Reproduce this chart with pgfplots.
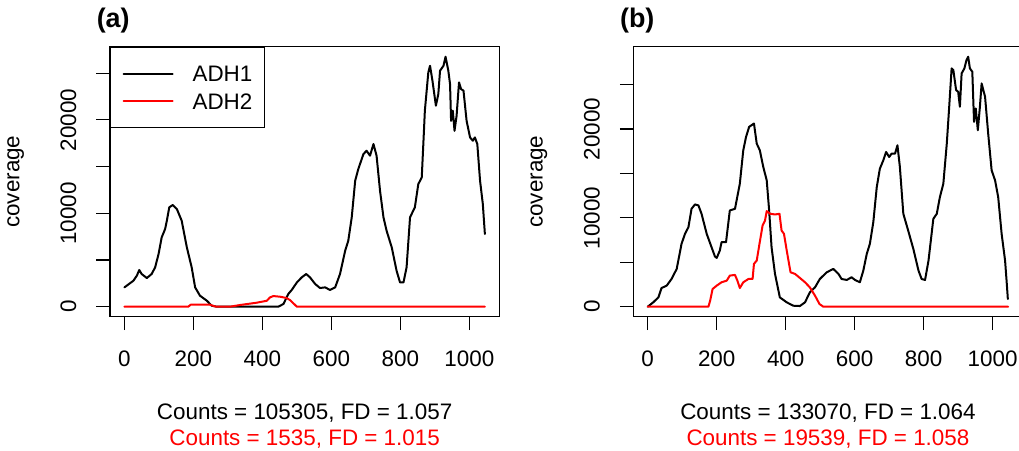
\documentclass[border=0pt]{standalone}
\usepackage{fontspec}
\setmainfont{Liberation Sans}
\usepackage{pgfplots}
\pgfplotsset{compat=1.18}
\newcommand{\fs}{\fontsize{22.5}{27}\selectfont}
\pgfplotsset{
  rpanel/.style={
    scale only axis, width=389.3bp, height=270bp,
    xmin=-41.8, xmax=1086.8,
    scaled ticks=false,
    axis line style={line width=1.1bp},
    tick align=outside, tick pos=left,
    major tick length=13.5bp,
    tick style={line width=1.1bp, black},
    xtick={0,200,400,600,800,1000}, xticklabels={0,200,400,600,800,1000},
    ytick={0,5000,10000,15000,20000,25000}, yticklabels={0,,10000,,20000,},
    tick label style={font=\fs},
    xticklabel style={anchor=center, yshift=-28.5bp},
    yticklabel style={xshift=-28bp, rotate=90, anchor=center},
    label style={font=\fs},
    ylabel={coverage},
    ylabel style={at={(axis description cs:-0.233,0.5)}, anchor=base},
    xlabel style={at={(axis description cs:0.5,-0.3789)}, anchor=base},
    title style={at={(axis description cs:-0.043,1.05)}, anchor=base west, font=\bfseries\fontsize{27}{32}\selectfont},
  },
  adh/.style={line width=2bp, line join=round, line cap=round},
}
\begin{document}
\begin{tikzpicture}
\useasboundingbox (0,0) rectangle (1019bp,451bp);
\begin{axis}[rpanel, at={(110bp,134.3bp)}, anchor=south west,
  ymin=-1071, ymax=27841,
  title={(a)},
  xlabel={Counts = 105305, FD = 1.057},
  legend cell align=left,
  legend image code/.code={\path (0bp,0bp) -- (7bp,0bp); \draw[#1] (7bp,0bp) -- (49bp,0bp);},
  legend style={at={(axis description cs:0,1)}, anchor=north west, draw=black, line width=1.1bp,
    inner xsep=12bp, inner ysep=13bp, row sep=0bp, column sep=19bp, font=\fs,
    nodes={inner sep=0pt, text height=21.5bp, text depth=5.8bp}},
  after end axis/.code={\node[anchor=base, text=red, font=\fs] at (axis description cs:0.5,-0.4752) {Counts = 1535, FD = 1.015};},
]
\addplot[adh, black] coordinates {
(0,2070) (26,2780) (36,3320) (43,3930) (50,3500) (65,3070) (79,3500) (89,4210) (99,5640) (108,7420) (118,8320) (123,9210) (130,10640) (140,10890) (152,10460) (166,9210) (181,6350) (195,4210) (205,2070) (219,1180) (239,640) (253,110) (268,0) (446,0) (461,290) (475,1360) (485,1790) (500,2600) (514,3140) (527,3500) (538,3140) (553,2430) (567,2000) (582,2070) (596,1790) (611,2070) (625,3500) (640,6000) (649,7070) (659,9570) (669,13490) (678,14740) (693,16350) (702,16700) (712,16170) (722,17420) (731,16170) (741,12420) (751,9570) (760,8140) (775,6350) (789,3850) (799,2600) (809,2600) (818,4210) (828,9570) (842,10640) (852,13130) (862,13850) (867,17770) (871,20990) (881,25090) (886,25800) (893,24200) (903,21520) (910,22770) (915,25270) (925,25800) (931,26770) (939,25270) (944,23840) (947,19900) (952,20990) (957,18840) (963,20450) (970,24020) (976,23300) (983,23130) (992,19900) (1002,18130) (1010,17770) (1016,18130) (1023,17420) (1031,13490) (1039,11000) (1045,7780)
};
\addlegendentry{ADH1}
\addplot[adh, red] coordinates {
(0,0) (185,0) (192,210) (248,210) (265,0) (306,0) (335,180) (384,430) (413,640) (422,1000) (432,1140) (451,1070) (470,930) (480,710) (500,0) (1045,0)
};
\addlegendentry{ADH2}
\end{axis}
\begin{axis}[rpanel, at={(633.3bp,134.3bp)}, anchor=south west,
  ymin=-1126, ymax=29266,
  title={(b)},
  xlabel={Counts = 133070, FD = 1.064},
  after end axis/.code={\node[anchor=base, text=red, font=\fs] at (axis description cs:0.5,-0.4752) {Counts = 19539, FD = 1.058};},
]
\addplot[adh, black] coordinates {
(0,0) (16,490) (31,1050) (40,2100) (55,2370) (69,3120) (84,4250) (98,7070) (108,8200) (118,8950) (127,11020) (137,11510) (147,11400) (156,10460) (171,8200) (185,6700) (195,5640) (200,5490) (209,6320) (214,7260) (227,7260) (238,10830) (253,11020) (267,13840) (277,17600) (285,19110) (294,20240) (301,20430) (308,20620) (316,18360) (325,17600) (335,15730) (345,14220) (352,10830) (359,6700) (369,3690) (383,1050) (403,490) (422,110) (441,75) (456,490) (470,1620) (485,2180) (499,3120) (519,3875) (538,4250) (553,3690) (562,3120) (577,3010) (591,3310) (601,3010) (615,2750) (625,4060) (635,5940) (644,7070) (654,9520) (664,13470) (673,15540) (683,16480) (691,17420) (700,16850) (707,17230) (717,17230) (724,18170) (731,15730) (741,10460) (755,8580) (770,6510) (785,4060) (794,3120) (804,3010) (814,5190) (828,9890) (838,10460) (847,12340) (857,13840) (867,18360) (874,22500) (881,26820) (886,26640) (894,24380) (900,24190) (905,22500) (910,26260) (918,26820) (924,27760) (929,28140) (934,26820) (941,26450) (946,20800) (951,22310) (957,19860) (963,22500) (968,25130) (978,23620) (987,19490) (997,15350) (1007,14220) (1016,12340) (1026,8200) (1036,5190) (1041,2560) (1044,870)
};
\addplot[adh, red] coordinates {
(0,0) (176,0) (181,680) (188,1990) (200,2370) (214,2750) (229,2930) (238,3500) (253,3575) (260,2930) (267,2100) (277,2750) (292,3120) (304,3120) (308,4820) (316,5190) (324,7070) (333,9140) (340,9700) (345,10760) (355,10460) (369,10380) (382,10460) (388,8580) (395,8200) (403,6320) (414,3875) (427,3690) (441,3240) (456,2750) (470,2180) (485,1240) (498,300) (509,0) (1045,0)
};
\end{axis}
\end{tikzpicture}
\end{document}
